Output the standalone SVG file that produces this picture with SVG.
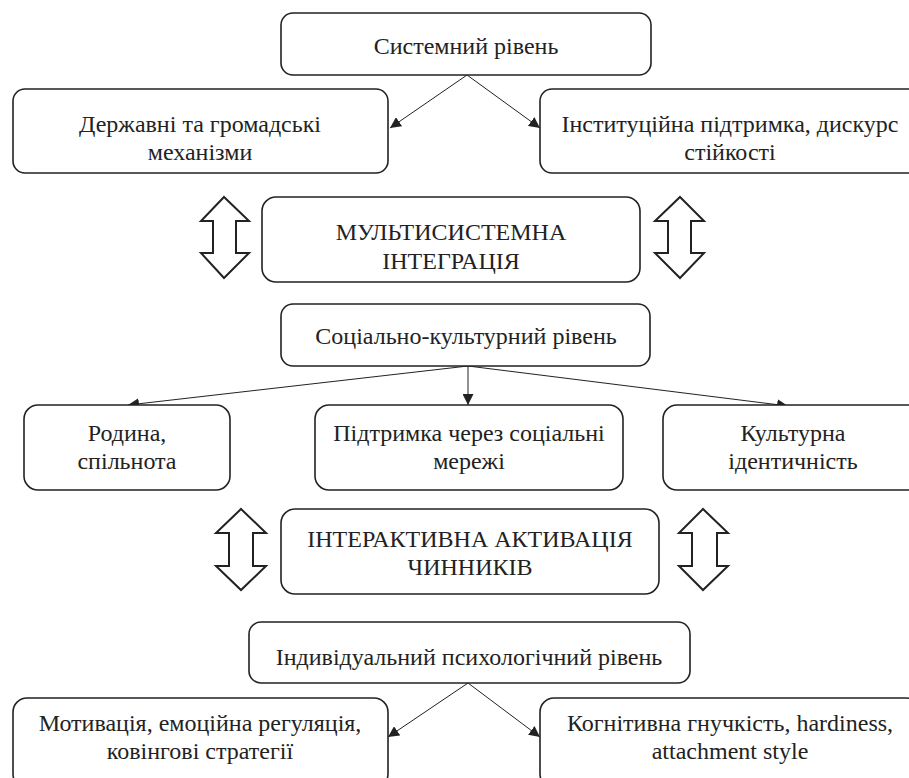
<svg xmlns="http://www.w3.org/2000/svg" width="909" height="778" viewBox="0 0 909 778">
<defs>
<marker id="ah" viewBox="0 0 10 10" refX="10" refY="5" markerWidth="11" markerHeight="11" markerUnits="userSpaceOnUse" orient="auto">
<path d="M0,0 L10,5 L0,10 z" fill="#222"/>
</marker>
</defs>
<rect width="909" height="778" fill="#fff"/>
<g id="connectors" stroke="#222" stroke-width="1" fill="none" marker-end="url(#ah)">
<line x1="467" y1="75" x2="390" y2="128"/>
<line x1="467" y1="75" x2="540" y2="128"/>
<line x1="468" y1="366" x2="128" y2="405"/>
<line x1="468" y1="366" x2="468" y2="405"/>
<line x1="468" y1="366" x2="788" y2="406"/>
<line x1="468" y1="683" x2="388" y2="737"/>
<line x1="468" y1="683" x2="540" y2="737"/>
</g>
<g fill="#fff" stroke="#222" stroke-width="2" stroke-linejoin="miter">
<polygon id="a-left1" points="224,197 249,221 236,221 236,253 249,253 224,278 201,253 213,253 213,221 201,221"/>
<polygon id="a-right1" points="680,197 704,221 691,221 691,253 704,253 680,278 655,253 668,253 668,221 655,221"/>
<polygon id="a-left2" points="241,509 266,533 253,533 253,566 266,566 241,590 216,566 229,566 229,533 216,533"/>
<polygon id="a-right2" points="703,509 728,533 717,533 717,566 728,566 703,590 679,566 692,566 692,533 679,533"/>
</g>
<g fill="#fff" stroke="#222" stroke-width="1.6">
<g id="n-system">
<rect x="281" y="13" width="370" height="62" rx="12"/>
<text x="466" y="54" font-family="Liberation Serif" font-size="24" fill="#222" stroke="none" text-anchor="middle">Системний рівень</text>
</g>
<g id="n-state">
<rect x="13" y="89" width="375" height="84" rx="12"/>
<text x="200" y="132" font-family="Liberation Serif" font-size="24" fill="#222" stroke="none" text-anchor="middle">Державні та громадські</text>
<text x="200" y="160" font-family="Liberation Serif" font-size="24" fill="#222" stroke="none" text-anchor="middle">механізми</text>
</g>
<g id="n-inst">
<rect x="540" y="89" width="380" height="84" rx="12"/>
<text x="730" y="132" font-family="Liberation Serif" font-size="24" fill="#222" stroke="none" text-anchor="middle">Інституційна підтримка, дискурс</text>
<text x="730" y="160" font-family="Liberation Serif" font-size="24" fill="#222" stroke="none" text-anchor="middle">стійкості</text>
</g>
<g id="n-multi">
<rect x="262" y="197" width="378" height="85" rx="14"/>
<text x="451" y="240" font-family="Liberation Serif" font-size="24" fill="#222" stroke="none" text-anchor="middle">МУЛЬТИСИСТЕМНА</text>
<text x="451" y="269" font-family="Liberation Serif" font-size="24" fill="#222" stroke="none" text-anchor="middle">ІНТЕГРАЦІЯ</text>
</g>
<g id="n-social">
<rect x="281" y="304" width="369" height="62" rx="12"/>
<text x="466" y="344" font-family="Liberation Serif" font-size="24" fill="#222" stroke="none" text-anchor="middle">Соціально-культурний рівень</text>
</g>
<g id="n-family">
<rect x="24" y="405" width="206" height="85" rx="14"/>
<text x="127" y="441" font-family="Liberation Serif" font-size="24" fill="#222" stroke="none" text-anchor="middle">Родина,</text>
<text x="127" y="469" font-family="Liberation Serif" font-size="24" fill="#222" stroke="none" text-anchor="middle">спільнота</text>
</g>
<g id="n-network">
<rect x="315" y="405" width="308" height="85" rx="14"/>
<text x="469" y="441" font-family="Liberation Serif" font-size="24" fill="#222" stroke="none" text-anchor="middle">Підтримка через соціальні</text>
<text x="469" y="469" font-family="Liberation Serif" font-size="24" fill="#222" stroke="none" text-anchor="middle">мережі</text>
</g>
<g id="n-culture">
<rect x="663" y="405" width="262" height="85" rx="14"/>
<text x="793" y="441" font-family="Liberation Serif" font-size="24" fill="#222" stroke="none" text-anchor="middle">Культурна</text>
<text x="793" y="469" font-family="Liberation Serif" font-size="24" fill="#222" stroke="none" text-anchor="middle">ідентичність</text>
</g>
<g id="n-inter">
<rect x="281" y="509" width="378" height="85" rx="14"/>
<text x="470" y="547" font-family="Liberation Serif" font-size="24" fill="#222" stroke="none" text-anchor="middle">ІНТЕРАКТИВНА АКТИВАЦІЯ</text>
<text x="470" y="575" font-family="Liberation Serif" font-size="24" fill="#222" stroke="none" text-anchor="middle">ЧИННИКІВ</text>
</g>
<g id="n-indiv">
<rect x="249" y="622" width="441" height="61" rx="12"/>
<text x="469" y="665" font-family="Liberation Serif" font-size="24" fill="#222" stroke="none" text-anchor="middle">Індивідуальний психологічний рівень</text>
</g>
<g id="n-motiv">
<rect x="13" y="698" width="375" height="90" rx="14"/>
<text x="200" y="731" font-family="Liberation Serif" font-size="24" fill="#222" stroke="none" text-anchor="middle">Мотивація, емоційна регуляція,</text>
<text x="200" y="759" font-family="Liberation Serif" font-size="24" fill="#222" stroke="none" text-anchor="middle">ковінгові стратегії</text>
</g>
<g id="n-cogn">
<rect x="540" y="698" width="380" height="90" rx="14"/>
<text x="730" y="731" font-family="Liberation Serif" font-size="24" fill="#222" stroke="none" text-anchor="middle">Когнітивна гнучкість, hardiness,</text>
<text x="730" y="759" font-family="Liberation Serif" font-size="24" fill="#222" stroke="none" text-anchor="middle">attachment style</text>
</g>
</g>
</svg>
